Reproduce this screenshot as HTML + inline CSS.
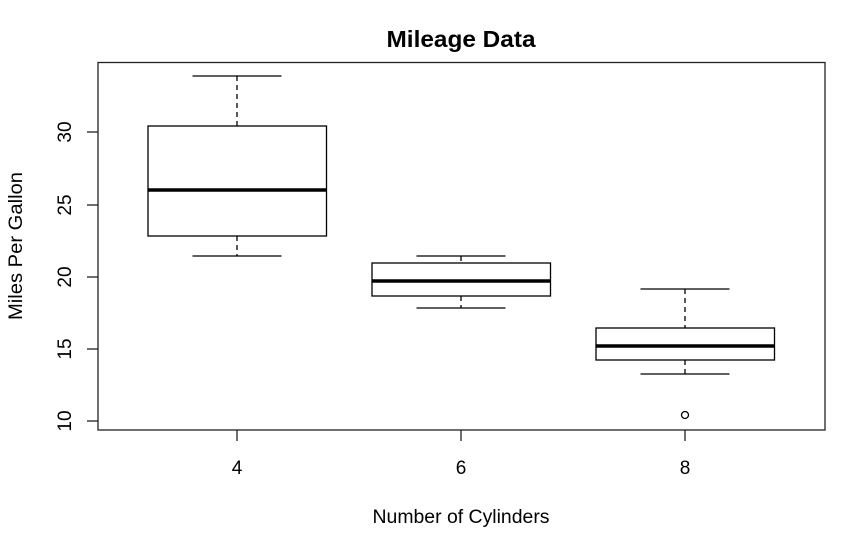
<!DOCTYPE html>
<html><head><style>body{margin:0;background:#fff}svg{display:block}text{font-family:"Liberation Sans",Arial,sans-serif;fill:#000}</style></head>
<body>
<svg width="854" height="554" viewBox="0 0 854 554">
<rect x="98" y="62.5" width="727" height="367.5" fill="none" stroke="#222" stroke-width="1.3"/>
<text x="461" y="47" font-size="23" font-weight="bold" text-anchor="middle" textLength="149" lengthAdjust="spacingAndGlyphs">Mileage Data</text>
<text x="461" y="523" font-size="19.5" text-anchor="middle" textLength="177" lengthAdjust="spacingAndGlyphs">Number of Cylinders</text>
<text transform="translate(22,246) rotate(-90)" font-size="19.5" text-anchor="middle" textLength="148" lengthAdjust="spacingAndGlyphs">Miles Per Gallon</text>
<g stroke="#222" stroke-width="1.3">
<line x1="87" y1="132" x2="98" y2="132"/><line x1="87" y1="205" x2="98" y2="205"/><line x1="87" y1="277" x2="98" y2="277"/><line x1="87" y1="349" x2="98" y2="349"/><line x1="87" y1="421" x2="98" y2="421"/>
<line x1="237" y1="430" x2="237" y2="441"/><line x1="461" y1="430" x2="461" y2="441"/><line x1="685" y1="430" x2="685" y2="441"/>
</g>
<g font-size="19" text-anchor="middle">
<text transform="translate(71,132) rotate(-90)">30</text>
<text transform="translate(71,205) rotate(-90)">25</text>
<text transform="translate(71,277) rotate(-90)">20</text>
<text transform="translate(71,349) rotate(-90)">15</text>
<text transform="translate(71,421) rotate(-90)">10</text>
<text x="237" y="474">4</text><text x="461" y="474">6</text><text x="685" y="474">8</text>
</g>
<g stroke="#000" stroke-width="1.3" fill="none">
<rect x="148" y="126" width="178.5" height="110"/>
<line x1="237" y1="76" x2="237" y2="126" stroke-dasharray="5,4"/><line x1="237" y1="236" x2="237" y2="256" stroke-dasharray="5,4"/>
<line x1="192.5" y1="76" x2="281.5" y2="76"/><line x1="192.5" y1="256" x2="281.5" y2="256"/>
<line x1="148" y1="190" x2="326.5" y2="190" stroke-width="3.5"/>
<rect x="372" y="263" width="178.5" height="33"/>
<line x1="461" y1="256" x2="461" y2="263" stroke-dasharray="5,4"/><line x1="461" y1="296" x2="461" y2="308" stroke-dasharray="5,4"/>
<line x1="416.5" y1="256" x2="505.5" y2="256"/><line x1="416.5" y1="308" x2="505.5" y2="308"/>
<line x1="372" y1="281" x2="550.5" y2="281" stroke-width="3.5"/>
<rect x="596" y="328" width="178.5" height="32"/>
<line x1="685" y1="289" x2="685" y2="328" stroke-dasharray="5,4"/><line x1="685" y1="360" x2="685" y2="374" stroke-dasharray="5,4"/>
<line x1="640.5" y1="289" x2="729.5" y2="289"/><line x1="640.5" y1="374" x2="729.5" y2="374"/>
<line x1="596" y1="346" x2="774.5" y2="346" stroke-width="3.5"/>
<circle cx="685" cy="415" r="3.5"/>
</g>
</svg>
</body></html>
